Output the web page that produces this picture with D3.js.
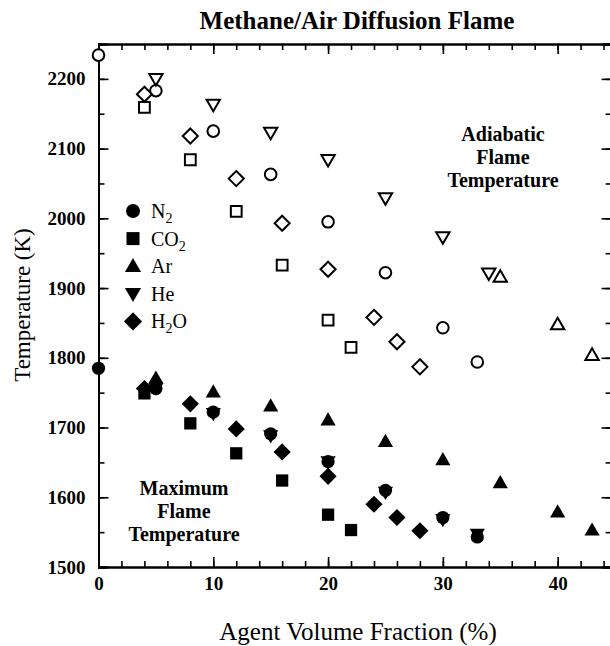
<!DOCTYPE html>
<html>
<head>
<meta charset="utf-8">
<script src="https://cdn.jsdelivr.net/npm/d3@7"></script>
<style>
  body { margin: 0; background: #fff; }
  text { font-family: "Liberation Serif", "Times New Roman", serif; fill: #000; }
</style>
</head>
<body>
<div id="chart"></div>
<script>
// Maximum flame temperature (filled symbols), [agent %, K]
const n2Max  = [[0, 1785], [5, 1756], [10, 1722], [15, 1691], [20, 1651], [25, 1610], [30, 1571], [33, 1543]];
const co2Max = [[4, 1749], [8, 1706], [12, 1663], [16, 1624], [20, 1575], [22, 1553]];
const arMax  = [[5, 1771], [10, 1751], [15, 1731], [20, 1711], [25, 1680], [30, 1654], [35, 1621], [40, 1579], [43, 1553]];
const heMax  = [[5, 1756], [10, 1720], [15, 1688], [20, 1651], [25, 1607], [30, 1568], [33, 1547]];
const h2oMax = [[4, 1756], [8, 1734], [12, 1698], [16, 1665], [20, 1630], [24, 1590], [26, 1571], [28, 1552]];

// Adiabatic flame temperature (open symbols)
const n2Ad  = [[0, 2234], [5, 2183], [10, 2125], [15, 2063], [20, 1995], [25, 1922], [30, 1843], [33, 1794]];
const co2Ad = [[4, 2159], [8, 2084], [12, 2010], [16, 1933], [20, 1854], [22, 1815]];
const arAd  = [[35, 1916], [40, 1848], [43, 1804]];
const heAd  = [[5, 2200], [10, 2163], [15, 2123], [20, 2084], [25, 2029], [30, 1973], [34, 1921]];
const h2oAd = [[4, 2178], [8, 2118], [12, 2057], [16, 1993], [20, 1927], [24, 1858], [26, 1823], [28, 1787]];

const legendNames = [["N", "2", ""], ["CO", "2", ""], ["Ar", "", ""], ["He", "", ""], ["H", "2", "O"]];
const shapes = ["circle", "square", "up", "down", "diamond"];

const xTicks = [0, 10, 20, 30, 40];
const yTicks = [1500, 1600, 1700, 1800, 1900, 2000, 2100, 2200];

const W = 610, H = 646;

const x = d3.scaleLinear().domain([0, 44.7]).range([98.5, 611.6]);
const y = d3.scaleLinear().domain([1500, 2250]).range([567, 44]);

const svg = d3.select("#chart").append("svg")
  .attr("width", W)
  .attr("height", H);

// symbol outline for each shape, centred on 0,0
function shapePath(type, r) {
  if (type === "circle") {
    return `M${r},0A${r},${r} 0 1,1 ${-r},0A${r},${r} 0 1,1 ${r},0Z`;
  }
  if (type === "square") {
    const s = r * 0.93;
    return `M${-s},${-s}H${s}V${s}H${-s}Z`;
  }
  if (type === "diamond") {
    const s = r * 1.3;
    return `M0,${-s}L${s},0L0,${s}L${-s},0Z`;
  }
  const h = r * 1.05, w = r * 1.15;
  if (type === "up") return `M0,${-h * 1.1}L${w},${h * 0.8}L${-w},${h * 0.8}Z`;
  return `M0,${h * 1.1}L${w},${-h * 0.8}L${-w},${-h * 0.8}Z`;
}

// axes (ticks point inward)
function addAxis(axis, tf) {
  return svg.append("g").attr("transform", tf).call(axis);
}
const minorX = d3.range(0, 45, 2);
const minorY = d3.range(1500, 2251, 50);

addAxis(d3.axisBottom(x).tickValues(minorX).tickSize(-6).tickFormat(""), `translate(0,${y(1500)})`);
addAxis(d3.axisTop(x).tickValues(minorX).tickSize(-6).tickFormat(""), `translate(0,${y(2250)})`);
addAxis(d3.axisLeft(y).tickValues(minorY).tickSize(-6).tickFormat(""), `translate(${x(0)},0)`);
addAxis(d3.axisRight(y).tickValues(minorY).tickSize(-6).tickFormat(""), `translate(${x(44.7)},0)`);

addAxis(d3.axisBottom(x).tickValues(xTicks).tickSize(-10).tickPadding(10).tickFormat(d3.format("d")), `translate(0,${y(1500)})`);
addAxis(d3.axisTop(x).tickValues(xTicks).tickSize(-10).tickFormat(""), `translate(0,${y(2250)})`);
addAxis(d3.axisLeft(y).tickValues(yTicks).tickSize(-10).tickPadding(13).tickFormat(d3.format("d")), `translate(${x(0)},0)`);
addAxis(d3.axisRight(y).tickValues(yTicks).tickSize(-10).tickFormat(""), `translate(${x(44.7)},0)`);

svg.selectAll(".domain").attr("stroke", "#000").attr("stroke-width", 2);
svg.selectAll(".tick line").attr("stroke", "#000").attr("stroke-width", 1.6);
svg.selectAll(".tick text")
  .style("font-family", "'Liberation Serif', serif")
  .style("font-size", "19px")
  .style("font-weight", "bold")
  .attr("fill", "#000");

// data points
const series = [
  { data: n2Ad, shape: "circle", filled: false },
  { data: co2Ad, shape: "square", filled: false },
  { data: arAd, shape: "up", filled: false },
  { data: heAd, shape: "down", filled: false },
  { data: h2oAd, shape: "diamond", filled: false },
  { data: heMax, shape: "down", filled: true },
  { data: n2Max, shape: "circle", filled: true },
  { data: co2Max, shape: "square", filled: true },
  { data: arMax, shape: "up", filled: true },
  { data: h2oMax, shape: "diamond", filled: true }
];

series.forEach(s => {
  svg.append("g")
    .selectAll("path")
    .data(s.data)
    .join("path")
    .attr("transform", d => `translate(${x(d[0])},${y(d[1])})`)
    .attr("d", shapePath(s.shape, s.filled ? 6.6 : 5.8))
    .attr("fill", s.filled ? "#000" : "#fff")
    .attr("stroke", "#000")
    .attr("stroke-width", s.filled ? 0 : 2);
});

// legend
const legend = svg.append("g");
legendNames.forEach((n, i) => {
  const ly = 211 + i * 27.6;
  legend.append("path")
    .attr("transform", `translate(133,${ly})`)
    .attr("d", shapePath(shapes[i], 7))
    .attr("fill", "#000");
  const t = legend.append("text")
    .attr("x", 151)
    .attr("y", ly + 7)
    .style("font-size", "20px");
  t.append("tspan").text(n[0]);
  if (n[1]) t.append("tspan").attr("dy", 5).style("font-size", "14px").text(n[1]);
  if (n[2]) t.append("tspan").attr("dy", -5).text(n[2]);
});

// annotations
function block(lines, cx, y0) {
  lines.forEach((l, i) => {
    svg.append("text")
      .attr("x", cx)
      .attr("y", y0 + i * 23)
      .attr("text-anchor", "middle")
      .style("font-size", "20px")
      .style("font-weight", "bold")
      .text(l);
  });
}
block(["Adiabatic", "Flame", "Temperature"], 503, 141);
block(["Maximum", "Flame", "Temperature"], 184, 495);

// title and axis labels
svg.append("text")
  .attr("x", 357)
  .attr("y", 29)
  .attr("text-anchor", "middle")
  .style("font-size", "25px")
  .style("font-weight", "bold")
  .text("Methane/Air Diffusion Flame");

svg.append("text")
  .attr("x", 358)
  .attr("y", 640)
  .attr("text-anchor", "middle")
  .style("font-size", "25px")
  .text("Agent Volume Fraction (%)");

svg.append("text")
  .attr("transform", "rotate(-90)")
  .attr("x", -305)
  .attr("y", 30)
  .attr("text-anchor", "middle")
  .style("font-size", "23px")
  .text("Temperature (K)");
</script>
</body>
</html>
